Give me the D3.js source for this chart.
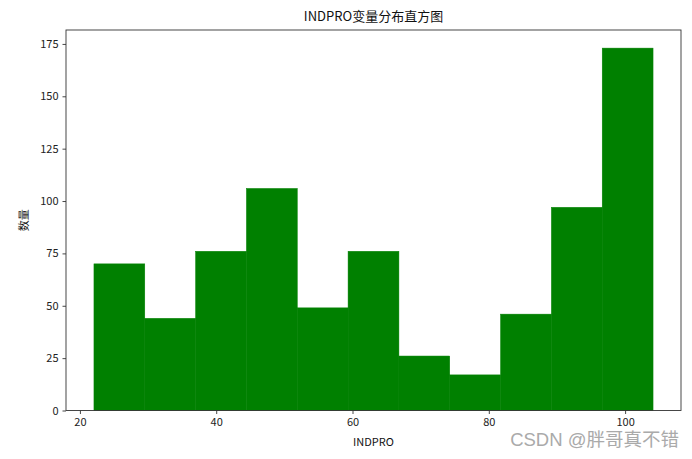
<!DOCTYPE html>
<html>
<head>
<meta charset="utf-8">
<script src="https://cdn.jsdelivr.net/npm/d3@7"></script>
<style>
  body { margin: 0; background: #fff; }
  text { font-family: "Noto Sans CJK SC", "DejaVu Sans", sans-serif; }
</style>
</head>
<body>
<script>
// histogram of INDPRO, 11 bins
let counts = [70, 44, 76, 106, 49, 76, 26, 17, 46, 97, 173];
let dataMin = 22.06, dataMax = 104.1;
let xTicks = [20, 40, 60, 80, 100];
let yTicks = [0, 25, 50, 75, 100, 125, 150, 175];

let W = 692, H = 459;
var plot = {left: 66, right: 681, top: 30, bottom: 410.5};

let binW = (dataMax - dataMin) / counts.length;
let bins = counts.map((c, i) => ({x0: dataMin + i * binW, x1: dataMin + (i + 1) * binW, n: c}));

let pad = (dataMax - dataMin) * 0.05;
var x = d3.scaleLinear().domain([dataMin - pad, dataMax + pad]).range([plot.left, plot.right]);
var y = d3.scaleLinear().domain([0, d3.max(counts) * 1.05]).range([plot.bottom, plot.top]);

var svg = d3.select("body").append("svg")
  .attr("width", W).attr("height", H);

svg.selectAll("rect.bar")
  .data(bins)
  .enter().append("rect")
  .attr("class", "bar")
  .attr("x", d => x(d.x0))
  .attr("width", d => x(d.x1) - x(d.x0))
  .attr("y", d => y(d.n))
  .attr("height", d => y(0) - y(d.n))
  .attr("fill", "#008000")
  .attr("stroke", "#008000")
  .attr("stroke-width", 0.5);

// frame
svg.append("rect")
  .attr("x", plot.left).attr("y", plot.top)
  .attr("width", plot.right - plot.left).attr("height", plot.bottom - plot.top)
  .attr("fill", "none").attr("stroke", "#333").attr("stroke-width", 0.9);

let xAxis = svg.append("g")
  .attr("transform", "translate(0," + plot.bottom + ")")
  .call(d3.axisBottom(x).tickValues(xTicks).tickSize(3.5).tickPadding(4));
let yAxis = svg.append("g")
  .attr("transform", "translate(" + plot.left + ",0)")
  .call(d3.axisLeft(y).tickValues(yTicks).tickSize(3.5).tickPadding(4));

[xAxis, yAxis].forEach(g => {
  g.select(".domain").remove();
  g.selectAll("line").attr("stroke", "#333").attr("stroke-width", 0.9);
  g.selectAll("text").attr("fill", "#222").style("font-size", "11px")
    .style("font-family", "'Noto Sans CJK SC', sans-serif");
});

svg.append("text")
  .attr("x", (plot.left + plot.right) / 2).attr("y", 21)
  .attr("text-anchor", "middle")
  .style("font-size", "13px").attr("fill", "#111")
  .text("INDPRO变量分布直方图");

svg.append("text")
  .attr("x", (plot.left + plot.right) / 2).attr("y", 446)
  .attr("text-anchor", "middle")
  .style("font-size", "11px").attr("fill", "#111")
  .text("INDPRO");

svg.append("text")
  .attr("transform", "translate(28," + ((plot.top + plot.bottom) / 2) + ") rotate(-90)")
  .attr("text-anchor", "middle")
  .style("font-size", "11px").attr("fill", "#111")
  .text("数量");

// watermark
svg.append("text")
  .attr("x", 679).attr("y", 446)
  .attr("text-anchor", "end")
  .style("font-size", "18.5px").attr("fill", "#aaa")
  .style("font-family", "'Liberation Sans', 'Noto Sans CJK SC', sans-serif")
  .text("CSDN @胖哥真不错");
</script>
</body>
</html>
